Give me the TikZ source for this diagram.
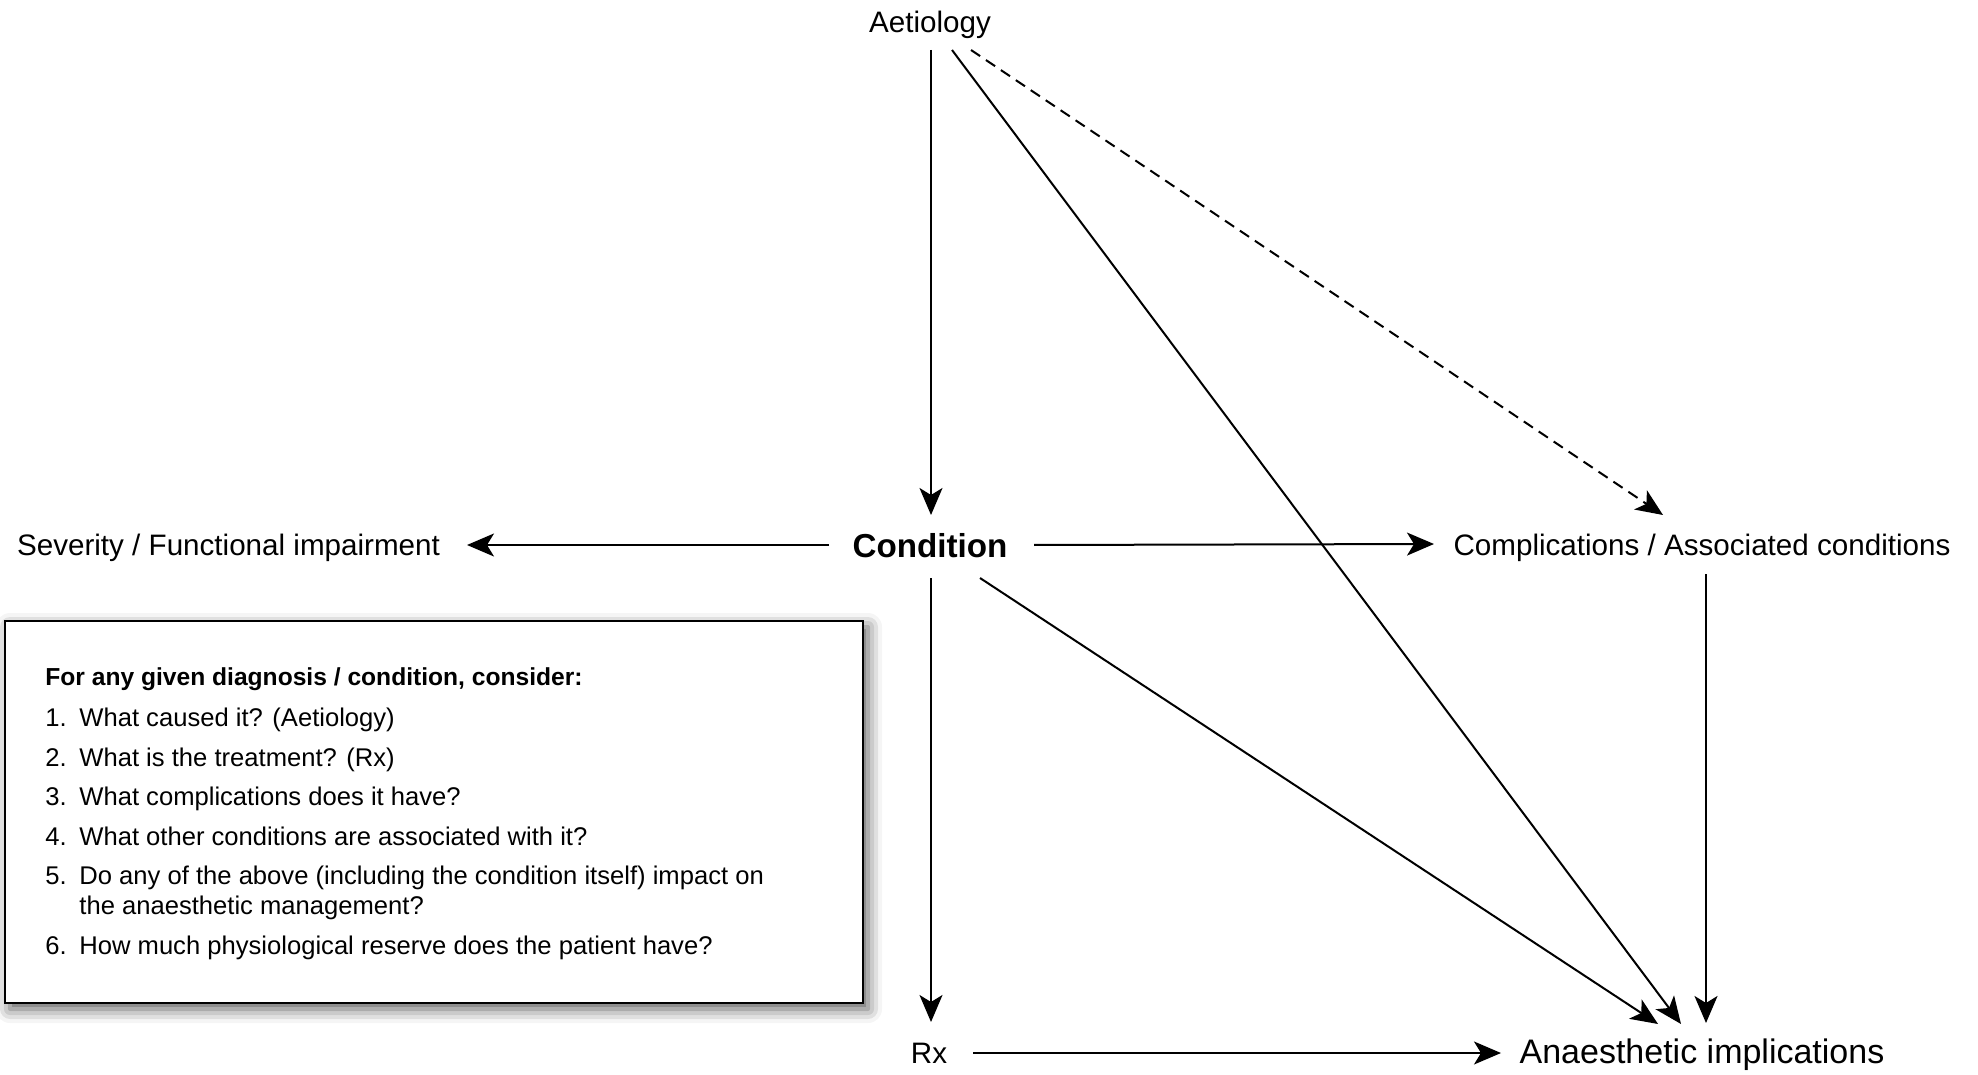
\documentclass[tikz,border=0pt]{standalone}
\usepackage{fontspec}
\setmainfont{Liberation Sans}
\usetikzlibrary{arrows.meta,calc,shadows.blur}

\begin{document}
\begin{tikzpicture}[x=0.5pt,y=-0.5pt,
  lbl/.style={font=\fontsize{14.8}{17}\selectfont, inner sep=0pt, anchor=base},
  bigbold/.style={font=\bfseries\fontsize{16.6}{20}\selectfont},
  biglbl/.style={font=\fontsize{17}{20}\selectfont},
  link/.style={line width=1pt, -{Stealth[length=13.5pt,width=11.5pt,inset=3.5pt]}},
  dashlink/.style={link, dash pattern=on 5.5pt off 3.5pt},
  notebox/.style={draw, line width=1.2pt, fill=white, inner sep=0pt,
    minimum width=429pt, minimum height=191pt,
    blur shadow={shadow xshift=2.5pt, shadow yshift=-3pt,
      shadow blur radius=7pt, shadow opacity=65}},
  noteline/.style={font=\fontsize{12.8}{15}\selectfont, inner sep=0pt, anchor=base west},
  notehead/.style={noteline, font=\bfseries\fontsize{12.3}{15}\selectfont}]

\useasboundingbox (0,0) rectangle (1978,1075);

% concepts
\node[lbl] (aet) at (930,33) {Aetiology};
\node[lbl, bigbold] (cond) at (930,557) {Condition};
\node[lbl] (sev) at (228.5,555) {Severity / Functional impairment};
\node[lbl] (comp) at (1702,555) {Complications / Associated conditions};
\node[lbl] (rx) at (929,1063) {Rx};
\node[lbl, biglbl] (anae) at (1702,1063) {Anaesthetic implications};

% links between concepts
\draw[link] ($(aet.base)+(1,17)$) -- ($(cond.base)+(1,-42)$);
\draw[dashlink] ($(aet.base)+(41,17)$) -- ($(comp.base)+(-39,-40)$);
\draw[link] ($(aet.base)+(22,17)$) -- ($(anae.base)+(-21,-39)$);
\draw[link] ($(cond.base)+(-101,-12)$) -- ($(sev.base)+(238.5,-10)$);
\draw[link] ($(cond.base)+(104,-12)$) -- ($(comp.base)+(-268,-11)$);
\draw[link] ($(cond.base)+(1,21)$) -- ($(rx.base)+(2,-41)$);
\draw[link] ($(cond.base)+(50,21)$) -- ($(anae.base)+(-44,-39)$);
\draw[link] ($(comp.base)+(4,19)$) -- ($(anae.base)+(4,-40)$);
\draw[link] ($(rx.base)+(44,-10)$) -- ($(anae.base)+(-201,-10)$);

% checklist panel
\node[notebox] (notes) at (434,812) {};
\node[notehead] (qh) at (45,685) {For any given diagnosis / condition, consider:};
\node[noteline] (q1) at (45,726) {\makebox[17pt][l]{1.}What caused it? (Aetiology)};
\node[noteline] (q2) at (45,766) {\makebox[17pt][l]{2.}What is the treatment? (Rx)};
\node[noteline] (q3) at (45,805) {\makebox[17pt][l]{3.}What complications does it have?};
\node[noteline] (q4) at (45,845) {\makebox[17pt][l]{4.}What other conditions are associated with it?};
\node[noteline] (q5) at (45,884) {\makebox[17pt][l]{5.}Do any of the above (including the condition itself) impact on};
\node[noteline] (q5b) at (79,914) {the anaesthetic management?};
\node[noteline] (q6) at (45,954) {\makebox[17pt][l]{6.}How much physiological reserve does the patient have?};
\end{tikzpicture}
\end{document}
